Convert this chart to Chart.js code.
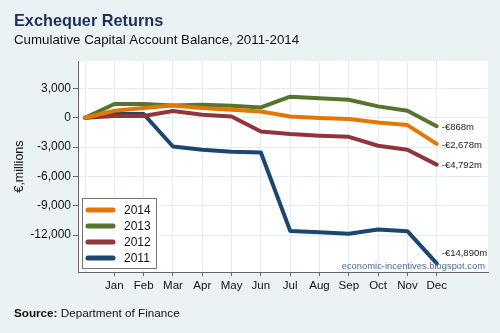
<!DOCTYPE html>
<html>
<head>
<meta charset="utf-8">
<script src="https://cdn.jsdelivr.net/npm/chart.js@4.4.1/dist/chart.umd.min.js"></script>
<style>
  html, body { margin: 0; padding: 0; background: #eaf2f3; }
  #wrap { width: 500px; height: 333px; }
</style>
</head>
<body>
<div id="wrap"><canvas id="balanceChart" width="500" height="333"></canvas></div>
<script>
// month positions on the x axis (0 = start of year)
const monthPos = [0, 1, 2, 3, 4, 5, 6, 7, 8, 9, 10, 11, 12];
const monthNames = ["Jan", "Feb", "Mar", "Apr", "May", "Jun", "Jul", "Aug", "Sep", "Oct", "Nov", "Dec"];
const yTicks = [-12000, -9000, -6000, -3000, 0, 3000];

// cumulative capital account balance, € millions
const years = ["2014", "2013", "2012", "2011"];
const bal2014 = [0, 717, 990, 1260, 990, 820, 645, 133, -34, -136, -480, -750, -2678];
const bal2013 = [0, 1403, 1400, 1260, 1330, 1230, 1055, 2150, 1980, 1840, 1160, 717, -868];
const bal2012 = [0, 170, 170, 680, 307, 133, -1400, -1670, -1830, -1950, -2860, -3280, -4792];
const bal2011 = [0, 380, 380, -2940, -3280, -3480, -3550, -11570, -11710, -11850, -11430, -11600, -14890];

const lineColors = ["#e37706", "#55752f", "#90353b", "#1a476f"];

const FONT = "'Liberation Sans', Arial, sans-serif";
Chart.defaults.font.family = FONT;

function eur(v) {
    return (v < 0 ? "-" : "") + "\u20ac" + Math.abs(v).toLocaleString("en-US") + "m";
}

// page text, legend box and end-of-year labels
const decorations = {
    id: "decorations",
    beforeDraw(chart) {
        const ctx = chart.ctx;
        const a = chart.chartArea;
        ctx.save();
        ctx.fillStyle = "#eaf2f3";
        ctx.fillRect(0, 0, chart.width, chart.height);
        ctx.fillStyle = "#ffffff";
        ctx.fillRect(a.left, a.top, a.right - a.left, a.bottom - a.top);
        ctx.restore();
    },
    afterDraw(chart) {
        const ctx = chart.ctx;
        const a = chart.chartArea;
        const xs = chart.scales.x, ys = chart.scales.y;
        ctx.save();

        // titles
        ctx.textBaseline = "alphabetic";
        ctx.textAlign = "left";
        ctx.fillStyle = "#1e2f5f";
        ctx.font = "bold 16.3px " + FONT;
        ctx.fillText("Exchequer Returns", 14, 26);
        ctx.fillStyle = "#111111";
        ctx.font = "13.3px " + FONT;
        ctx.fillText("Cumulative Capital Account Balance, 2011-2014", 14, 44);

        // source line
        ctx.font = "bold 11.7px " + FONT;
        ctx.fillText("Source:", 14, 317);
        var w = ctx.measureText("Source: ").width;
        ctx.font = "11.7px " + FONT;
        ctx.fillText("Department of Finance", 14 + w, 317);

        // y axis title
        ctx.save();
        ctx.translate(20, (a.top + a.bottom) / 2);
        ctx.rotate(-Math.PI / 2);
        ctx.textAlign = "center";
        ctx.textBaseline = "middle";
        ctx.font = "12.5px " + FONT;
        ctx.fillText("\u20ac,millions", 0, 0);
        ctx.restore();

        // watermark
        ctx.textAlign = "right";
        ctx.textBaseline = "middle";
        ctx.fillStyle = "#4a6a96";
        ctx.font = "9.4px " + FONT;
        ctx.fillText("economic-incentives.blogspot.com", a.right - 3, a.bottom - 6);

        // end labels next to December points
        ctx.textAlign = "left";
        ctx.fillStyle = "#222222";
        ctx.font = "9.5px " + FONT;
        chart.data.datasets.forEach(function(ds) {
            var last = ds.data.length - 1;
            var px = xs.getPixelForValue(monthPos[last]);
            var py = Math.min(ys.getPixelForValue(ds.data[last]), a.bottom - 20);
            ctx.fillText(eur(ds.data[last]), px + 5, py + 1);
        });

        // legend box
        var lx = a.left + 4, ly = 198, lw = 74, lh = 70;
        ctx.fillStyle = "#ffffff";
        ctx.fillRect(lx, ly, lw, lh);
        ctx.strokeStyle = "#777777";
        ctx.lineWidth = 1;
        ctx.strokeRect(lx + 0.5, ly + 0.5, lw, lh);
        ctx.lineCap = "round";
        ctx.lineWidth = 5;
        ctx.textAlign = "left";
        ctx.textBaseline = "middle";
        ctx.font = "12px " + FONT;
        chart.data.datasets.forEach(function(ds, i) {
            var y = ly + 12 + i * 16;
            ctx.strokeStyle = ds.borderColor;
            ctx.beginPath();
            ctx.moveTo(lx + 6, y);
            ctx.lineTo(lx + 31, y);
            ctx.stroke();
            ctx.fillStyle = "#111111";
            ctx.fillText(ds.label, lx + 42, y + 1);
        });
        ctx.restore();
    }
};

function series(label, values, color) {
    return {
        label: label,
        data: values,
        borderColor: color,
        backgroundColor: color,
        borderWidth: 4,
        borderJoinStyle: "round",
        borderCapStyle: "round",
        pointRadius: 0,
        tension: 0,
        fill: false,
        clip: false
    };
}

const ctx = document.getElementById("balanceChart").getContext("2d");
const chart = new Chart(ctx, {
    type: "line",
    data: {
        labels: monthPos,
        datasets: [
            series(years[0], bal2014, lineColors[0]),
            series(years[1], bal2013, lineColors[1]),
            series(years[2], bal2012, lineColors[2]),
            series(years[3], bal2011, lineColors[3])
        ]
    },
    options: {
        responsive: false,
        animation: false,
        events: [],
        layout: { padding: { top: 61, right: 12, left: 0, bottom: 0 } },
        plugins: {
            legend: { display: false },
            tooltip: { enabled: false }
        },
        scales: {
            x: {
                type: "linear",
                min: -0.24,
                max: 13.75,
                afterBuildTicks: function(scale) {
                    scale.ticks = monthPos.map(function(v) { return { value: v }; });
                },
                afterFit: function(scale) { scale.height = 61; },
                ticks: {
                    autoSkip: false,
                    maxRotation: 0,
                    padding: 3,
                    color: "#111111",
                    font: { size: 11.5 },
                    callback: function(v) { return v >= 1 ? monthNames[v - 1] : ""; }
                },
                grid: {
                    color: "#e4eef0",
                    tickLength: 4,
                    tickColor: function(c) {
                        return c.tick && c.tick.value === 0 ? "rgba(0,0,0,0)" : "#666666";
                    }
                },
                border: { color: "#666666", width: 1 }
            },
            y: {
                min: -15770,
                max: 5800,
                afterBuildTicks: function(scale) {
                    scale.ticks = yTicks.map(function(v) { return { value: v }; });
                },
                afterFit: function(scale) { scale.width = 78; },
                ticks: {
                    padding: 2,
                    color: "#111111",
                    font: { size: 12 },
                    callback: function(v) { return v.toLocaleString("en-US"); }
                },
                grid: {
                    color: "#e4eef0",
                    tickLength: 5,
                    tickColor: "#666666"
                },
                border: { color: "#666666", width: 1 }
            }
        }
    },
    plugins: [decorations]
});
</script>
</body>
</html>
